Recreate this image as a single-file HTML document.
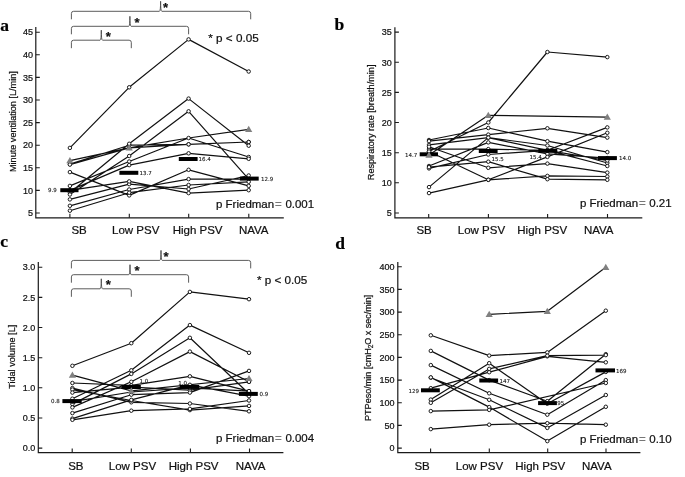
<!DOCTYPE html>
<html lang="en"><head><meta charset="utf-8"><title>Figure</title>
<style>html,body{margin:0;padding:0;background:#fff}svg{display:block;will-change:transform}text{stroke:#111;stroke-width:0.22px;font-family:'Liberation Sans', Arial, Helvetica, sans-serif;fill:#111}.bl{stroke-width:0.1px;font-family:'DejaVu Sans','Liberation Sans',sans-serif}.pl{font-family:'Liberation Serif','Times New Roman',serif;font-weight:bold;font-size:17.5px;fill:#000}</style>
</head><body>
<svg width="685" height="477" viewBox="0 0 685 477">
<rect width="685" height="477" fill="#fff"/>
<text class="pl" x="0.2" y="31">a</text>
<text class="pl" x="334.5" y="30.3">b</text>
<text class="pl" x="0.3" y="246.7">c</text>
<text class="pl" x="335.3" y="248.6">d</text>
<path d="M35.8 27.1V217.8H283.8" fill="none" stroke="#1a1a1a" stroke-width="1.2"/>
<path d="M35.8 213.0h4M35.8 190.4h4M35.8 167.8h4M35.8 145.2h4M35.8 122.6h4M35.8 100.0h4M35.8 77.4h4M35.8 54.8h4M35.8 32.2h4M69.9 217.8v-4M129.3 217.8v-4M188.7 217.8v-4M248.8 217.8v-4" fill="none" stroke="#1a1a1a" stroke-width="1.1"/>
<text x="33" y="216.2" font-size="9" text-anchor="end">5</text>
<text x="33" y="193.6" font-size="9" text-anchor="end">10</text>
<text x="33" y="171.0" font-size="9" text-anchor="end">15</text>
<text x="33" y="148.4" font-size="9" text-anchor="end">20</text>
<text x="33" y="125.8" font-size="9" text-anchor="end">25</text>
<text x="33" y="103.2" font-size="9" text-anchor="end">30</text>
<text x="33" y="80.6" font-size="9" text-anchor="end">35</text>
<text x="33" y="58.0" font-size="9" text-anchor="end">40</text>
<text x="33" y="35.4" font-size="9" text-anchor="end">45</text>
<path d="M69.9 147.9L129.2 87.3L188.6 39.4L248.7 71.5M69.9 160.6L129.2 147.9L188.6 138.0L248.7 129.4M69.9 164.0L129.2 145.2L188.6 144.3L248.7 142.0M69.9 164.6L129.2 147.9L188.6 144.3L248.7 142.0M69.9 192.7L129.2 143.8L188.6 98.6L248.7 145.7M69.9 194.5L129.2 156.0L188.6 111.3L248.7 179.1M69.9 185.9L129.2 161.5L188.6 138.0L248.7 157.0M69.9 190.4L129.2 165.1L188.6 153.3L248.7 158.8M69.9 172.1L129.2 195.4L188.6 169.8L248.7 185.9M69.9 199.4L129.2 184.1L188.6 189.0L248.7 175.5M69.9 205.8L129.2 189.5L188.6 179.1L248.7 179.1M69.9 210.7L129.2 192.7L188.6 185.0L248.7 181.8M69.9 190.4L129.2 181.4L188.6 193.1L248.7 190.2" fill="none" stroke="#111" stroke-width="1.2" stroke-linejoin="round"/>
<circle cx="69.9" cy="147.9" r="1.75" fill="#fff" stroke="#111" stroke-width="0.95"/>
<circle cx="129.2" cy="87.3" r="1.75" fill="#fff" stroke="#111" stroke-width="0.95"/>
<circle cx="188.6" cy="39.4" r="1.75" fill="#fff" stroke="#111" stroke-width="0.95"/>
<circle cx="248.7" cy="71.5" r="1.75" fill="#fff" stroke="#111" stroke-width="0.95"/>
<circle cx="69.9" cy="164.0" r="1.75" fill="#fff" stroke="#111" stroke-width="0.95"/>
<circle cx="129.2" cy="145.2" r="1.75" fill="#fff" stroke="#111" stroke-width="0.95"/>
<circle cx="188.6" cy="144.3" r="1.75" fill="#fff" stroke="#111" stroke-width="0.95"/>
<circle cx="248.7" cy="142.0" r="1.75" fill="#fff" stroke="#111" stroke-width="0.95"/>
<circle cx="69.9" cy="164.6" r="1.75" fill="#fff" stroke="#111" stroke-width="0.95"/>
<circle cx="129.2" cy="147.9" r="1.75" fill="#fff" stroke="#111" stroke-width="0.95"/>
<circle cx="188.6" cy="144.3" r="1.75" fill="#fff" stroke="#111" stroke-width="0.95"/>
<circle cx="248.7" cy="142.0" r="1.75" fill="#fff" stroke="#111" stroke-width="0.95"/>
<circle cx="69.9" cy="192.7" r="1.75" fill="#fff" stroke="#111" stroke-width="0.95"/>
<circle cx="129.2" cy="143.8" r="1.75" fill="#fff" stroke="#111" stroke-width="0.95"/>
<circle cx="188.6" cy="98.6" r="1.75" fill="#fff" stroke="#111" stroke-width="0.95"/>
<circle cx="248.7" cy="145.7" r="1.75" fill="#fff" stroke="#111" stroke-width="0.95"/>
<circle cx="69.9" cy="194.5" r="1.75" fill="#fff" stroke="#111" stroke-width="0.95"/>
<circle cx="129.2" cy="156.0" r="1.75" fill="#fff" stroke="#111" stroke-width="0.95"/>
<circle cx="188.6" cy="111.3" r="1.75" fill="#fff" stroke="#111" stroke-width="0.95"/>
<circle cx="248.7" cy="179.1" r="1.75" fill="#fff" stroke="#111" stroke-width="0.95"/>
<circle cx="69.9" cy="185.9" r="1.75" fill="#fff" stroke="#111" stroke-width="0.95"/>
<circle cx="129.2" cy="161.5" r="1.75" fill="#fff" stroke="#111" stroke-width="0.95"/>
<circle cx="188.6" cy="138.0" r="1.75" fill="#fff" stroke="#111" stroke-width="0.95"/>
<circle cx="248.7" cy="157.0" r="1.75" fill="#fff" stroke="#111" stroke-width="0.95"/>
<circle cx="69.9" cy="190.4" r="1.75" fill="#fff" stroke="#111" stroke-width="0.95"/>
<circle cx="129.2" cy="165.1" r="1.75" fill="#fff" stroke="#111" stroke-width="0.95"/>
<circle cx="188.6" cy="153.3" r="1.75" fill="#fff" stroke="#111" stroke-width="0.95"/>
<circle cx="248.7" cy="158.8" r="1.75" fill="#fff" stroke="#111" stroke-width="0.95"/>
<circle cx="69.9" cy="172.1" r="1.75" fill="#fff" stroke="#111" stroke-width="0.95"/>
<circle cx="129.2" cy="195.4" r="1.75" fill="#fff" stroke="#111" stroke-width="0.95"/>
<circle cx="188.6" cy="169.8" r="1.75" fill="#fff" stroke="#111" stroke-width="0.95"/>
<circle cx="248.7" cy="185.9" r="1.75" fill="#fff" stroke="#111" stroke-width="0.95"/>
<circle cx="69.9" cy="199.4" r="1.75" fill="#fff" stroke="#111" stroke-width="0.95"/>
<circle cx="129.2" cy="184.1" r="1.75" fill="#fff" stroke="#111" stroke-width="0.95"/>
<circle cx="188.6" cy="189.0" r="1.75" fill="#fff" stroke="#111" stroke-width="0.95"/>
<circle cx="248.7" cy="175.5" r="1.75" fill="#fff" stroke="#111" stroke-width="0.95"/>
<circle cx="69.9" cy="205.8" r="1.75" fill="#fff" stroke="#111" stroke-width="0.95"/>
<circle cx="129.2" cy="189.5" r="1.75" fill="#fff" stroke="#111" stroke-width="0.95"/>
<circle cx="188.6" cy="179.1" r="1.75" fill="#fff" stroke="#111" stroke-width="0.95"/>
<circle cx="248.7" cy="179.1" r="1.75" fill="#fff" stroke="#111" stroke-width="0.95"/>
<circle cx="69.9" cy="210.7" r="1.75" fill="#fff" stroke="#111" stroke-width="0.95"/>
<circle cx="129.2" cy="192.7" r="1.75" fill="#fff" stroke="#111" stroke-width="0.95"/>
<circle cx="188.6" cy="185.0" r="1.75" fill="#fff" stroke="#111" stroke-width="0.95"/>
<circle cx="248.7" cy="181.8" r="1.75" fill="#fff" stroke="#111" stroke-width="0.95"/>
<circle cx="69.9" cy="190.4" r="1.75" fill="#fff" stroke="#111" stroke-width="0.95"/>
<circle cx="129.2" cy="181.4" r="1.75" fill="#fff" stroke="#111" stroke-width="0.95"/>
<circle cx="188.6" cy="193.1" r="1.75" fill="#fff" stroke="#111" stroke-width="0.95"/>
<circle cx="248.7" cy="190.2" r="1.75" fill="#fff" stroke="#111" stroke-width="0.95"/>
<rect x="60.3" y="188.2" width="18.2" height="4" fill="#000"/>
<text x="56.8" y="192.4" font-size="5.5" fill="#000" stroke="#000" stroke-width="0.18" class="bl" text-anchor="end">9.9</text>
<rect x="119.4" y="170.8" width="18.9" height="4" fill="#000"/>
<text x="139.4" y="175.0" font-size="5.5" fill="#000" stroke="#000" stroke-width="0.18" class="bl" text-anchor="start">13.7</text>
<rect x="178.8" y="157.0" width="18.8" height="4" fill="#000"/>
<text x="198.4" y="161.2" font-size="5.5" fill="#000" stroke="#000" stroke-width="0.18" class="bl" text-anchor="start">16.4</text>
<rect x="239.9" y="176.6" width="18.8" height="4" fill="#000"/>
<text x="261.0" y="180.8" font-size="5.5" fill="#000" stroke="#000" stroke-width="0.18" class="bl" text-anchor="start">12.9</text>
<path d="M66.3 163.2L69.9 157.0L73.5 163.2Z" fill="#808080"/>
<path d="M125.6 150.5L129.2 144.3L132.8 150.5Z" fill="#808080"/>
<path d="M245.1 132.0L248.7 125.8L252.3 132.0Z" fill="#808080"/>
<path d="M71.4 19.3V13.5Q71.4 11.3 73.60000000000001 11.3H159.4Q160.6 11.3 160.6 1.3000000000000007M160.6 1.3000000000000007Q160.6 11.3 161.79999999999998 11.3H248.5Q250.7 11.3 250.7 13.5V19.3" fill="none" stroke="#4a4a4a" stroke-width="0.9"/>
<text x="162.9" y="11.8" font-size="13" font-weight="bold" fill="#222">*</text>
<path d="M71.4 34.3V28.5Q71.4 26.3 73.60000000000001 26.3H128.70000000000002Q129.9 26.3 129.9 16.3M129.9 16.3Q129.9 26.3 131.1 26.3H186.4Q188.6 26.3 188.6 28.5V34.3" fill="none" stroke="#4a4a4a" stroke-width="0.9"/>
<text x="134.4" y="26.8" font-size="13" font-weight="bold" fill="#222">*</text>
<path d="M71.4 48.2V42.400000000000006Q71.4 40.2 73.60000000000001 40.2H100.1Q101.3 40.2 101.3 30.200000000000003M101.3 30.200000000000003Q101.3 40.2 102.5 40.2H129.10000000000002Q131.3 40.2 131.3 42.400000000000006V48.2" fill="none" stroke="#4a4a4a" stroke-width="0.9"/>
<text x="105.8" y="40.7" font-size="13" font-weight="bold" fill="#222">*</text>
<text x="208.3" y="41.6" font-size="11.7">* p &lt; 0.05</text>
<text x="216" y="208.2" font-size="11.5">p Friedman<tspan style="fill:#777;stroke:#777" dx="0.9">=</tspan><tspan dx="0.4"> 0.001</tspan></text>
<text transform="translate(15.6 121.6) rotate(-90)" font-size="9.15" text-anchor="middle">Minute ventilation [L/min]</text>
<text x="71.4" y="234.3" font-size="11.5">SB</text>
<text x="112.0" y="234.3" font-size="11.5">Low PSV</text>
<text x="172.7" y="234.3" font-size="11.5">High PSV</text>
<text x="238.9" y="234.3" font-size="11.5">NAVA</text>
<path d="M394.9 27.3V217.9H642.3" fill="none" stroke="#1a1a1a" stroke-width="1.2"/>
<path d="M394.9 213.0h4M394.9 182.8h4M394.9 152.7h4M394.9 122.5h4M394.9 92.4h4M394.9 62.2h4M394.9 32.1h4M428.7 217.9v-4M488.4 217.9v-4M547.6 217.9v-4M607.5 217.9v-4" fill="none" stroke="#1a1a1a" stroke-width="1.1"/>
<text x="391.7" y="216.2" font-size="9" text-anchor="end">5</text>
<text x="391.7" y="186.0" font-size="9" text-anchor="end">10</text>
<text x="391.7" y="155.9" font-size="9" text-anchor="end">15</text>
<text x="391.7" y="125.8" font-size="9" text-anchor="end">20</text>
<text x="391.7" y="95.6" font-size="9" text-anchor="end">25</text>
<text x="391.7" y="65.5" font-size="9" text-anchor="end">30</text>
<text x="391.7" y="35.3" font-size="9" text-anchor="end">35</text>
<path d="M429.0 151.5L488.3 122.5L547.4 52.0L607.3 57.1M429.0 155.1L488.3 115.3L607.3 117.1M429.0 140.0L488.3 128.0L547.4 141.2L607.3 152.1M429.0 141.2L488.3 134.6L547.4 128.3L607.3 137.6M429.0 144.9L488.3 137.6L547.4 145.5L607.3 163.0M429.0 149.1L488.3 149.1L547.4 150.3L607.3 166.0M429.0 166.0L488.3 142.4L547.4 153.9L607.3 158.1M429.0 168.4L488.3 154.5L547.4 150.3L607.3 127.4M429.0 187.1L488.3 137.6L547.4 150.3L607.3 160.5M429.0 193.1L488.3 179.8L547.4 156.9L607.3 132.8M429.0 151.5L488.3 179.8L547.4 175.9L607.3 176.5M429.0 167.2L488.3 161.7L547.4 179.2L607.3 179.8M429.0 146.7L488.3 167.8L547.4 163.6L607.3 172.6" fill="none" stroke="#111" stroke-width="1.2" stroke-linejoin="round"/>
<circle cx="429.0" cy="151.5" r="1.75" fill="#fff" stroke="#111" stroke-width="0.95"/>
<circle cx="488.3" cy="122.5" r="1.75" fill="#fff" stroke="#111" stroke-width="0.95"/>
<circle cx="547.4" cy="52.0" r="1.75" fill="#fff" stroke="#111" stroke-width="0.95"/>
<circle cx="607.3" cy="57.1" r="1.75" fill="#fff" stroke="#111" stroke-width="0.95"/>
<circle cx="429.0" cy="140.0" r="1.75" fill="#fff" stroke="#111" stroke-width="0.95"/>
<circle cx="488.3" cy="128.0" r="1.75" fill="#fff" stroke="#111" stroke-width="0.95"/>
<circle cx="547.4" cy="141.2" r="1.75" fill="#fff" stroke="#111" stroke-width="0.95"/>
<circle cx="607.3" cy="152.1" r="1.75" fill="#fff" stroke="#111" stroke-width="0.95"/>
<circle cx="429.0" cy="141.2" r="1.75" fill="#fff" stroke="#111" stroke-width="0.95"/>
<circle cx="488.3" cy="134.6" r="1.75" fill="#fff" stroke="#111" stroke-width="0.95"/>
<circle cx="547.4" cy="128.3" r="1.75" fill="#fff" stroke="#111" stroke-width="0.95"/>
<circle cx="607.3" cy="137.6" r="1.75" fill="#fff" stroke="#111" stroke-width="0.95"/>
<circle cx="429.0" cy="144.9" r="1.75" fill="#fff" stroke="#111" stroke-width="0.95"/>
<circle cx="488.3" cy="137.6" r="1.75" fill="#fff" stroke="#111" stroke-width="0.95"/>
<circle cx="547.4" cy="145.5" r="1.75" fill="#fff" stroke="#111" stroke-width="0.95"/>
<circle cx="607.3" cy="163.0" r="1.75" fill="#fff" stroke="#111" stroke-width="0.95"/>
<circle cx="429.0" cy="149.1" r="1.75" fill="#fff" stroke="#111" stroke-width="0.95"/>
<circle cx="488.3" cy="149.1" r="1.75" fill="#fff" stroke="#111" stroke-width="0.95"/>
<circle cx="547.4" cy="150.3" r="1.75" fill="#fff" stroke="#111" stroke-width="0.95"/>
<circle cx="607.3" cy="166.0" r="1.75" fill="#fff" stroke="#111" stroke-width="0.95"/>
<circle cx="429.0" cy="166.0" r="1.75" fill="#fff" stroke="#111" stroke-width="0.95"/>
<circle cx="488.3" cy="142.4" r="1.75" fill="#fff" stroke="#111" stroke-width="0.95"/>
<circle cx="547.4" cy="153.9" r="1.75" fill="#fff" stroke="#111" stroke-width="0.95"/>
<circle cx="607.3" cy="158.1" r="1.75" fill="#fff" stroke="#111" stroke-width="0.95"/>
<circle cx="429.0" cy="168.4" r="1.75" fill="#fff" stroke="#111" stroke-width="0.95"/>
<circle cx="488.3" cy="154.5" r="1.75" fill="#fff" stroke="#111" stroke-width="0.95"/>
<circle cx="547.4" cy="150.3" r="1.75" fill="#fff" stroke="#111" stroke-width="0.95"/>
<circle cx="607.3" cy="127.4" r="1.75" fill="#fff" stroke="#111" stroke-width="0.95"/>
<circle cx="429.0" cy="187.1" r="1.75" fill="#fff" stroke="#111" stroke-width="0.95"/>
<circle cx="488.3" cy="137.6" r="1.75" fill="#fff" stroke="#111" stroke-width="0.95"/>
<circle cx="547.4" cy="150.3" r="1.75" fill="#fff" stroke="#111" stroke-width="0.95"/>
<circle cx="607.3" cy="160.5" r="1.75" fill="#fff" stroke="#111" stroke-width="0.95"/>
<circle cx="429.0" cy="193.1" r="1.75" fill="#fff" stroke="#111" stroke-width="0.95"/>
<circle cx="488.3" cy="179.8" r="1.75" fill="#fff" stroke="#111" stroke-width="0.95"/>
<circle cx="547.4" cy="156.9" r="1.75" fill="#fff" stroke="#111" stroke-width="0.95"/>
<circle cx="607.3" cy="132.8" r="1.75" fill="#fff" stroke="#111" stroke-width="0.95"/>
<circle cx="429.0" cy="151.5" r="1.75" fill="#fff" stroke="#111" stroke-width="0.95"/>
<circle cx="488.3" cy="179.8" r="1.75" fill="#fff" stroke="#111" stroke-width="0.95"/>
<circle cx="547.4" cy="175.9" r="1.75" fill="#fff" stroke="#111" stroke-width="0.95"/>
<circle cx="607.3" cy="176.5" r="1.75" fill="#fff" stroke="#111" stroke-width="0.95"/>
<circle cx="429.0" cy="167.2" r="1.75" fill="#fff" stroke="#111" stroke-width="0.95"/>
<circle cx="488.3" cy="161.7" r="1.75" fill="#fff" stroke="#111" stroke-width="0.95"/>
<circle cx="547.4" cy="179.2" r="1.75" fill="#fff" stroke="#111" stroke-width="0.95"/>
<circle cx="607.3" cy="179.8" r="1.75" fill="#fff" stroke="#111" stroke-width="0.95"/>
<circle cx="429.0" cy="146.7" r="1.75" fill="#fff" stroke="#111" stroke-width="0.95"/>
<circle cx="488.3" cy="167.8" r="1.75" fill="#fff" stroke="#111" stroke-width="0.95"/>
<circle cx="547.4" cy="163.6" r="1.75" fill="#fff" stroke="#111" stroke-width="0.95"/>
<circle cx="607.3" cy="172.6" r="1.75" fill="#fff" stroke="#111" stroke-width="0.95"/>
<rect x="419.7" y="152.3" width="18.3" height="4" fill="#000"/>
<text x="417.2" y="156.5" font-size="5.5" fill="#000" stroke="#000" stroke-width="0.18" class="bl" text-anchor="end">14.7</text>
<rect x="478.8" y="149.0" width="18.8" height="4" fill="#000"/>
<text x="491.4" y="161.2" font-size="5.5" fill="#000" stroke="#000" stroke-width="0.18" class="bl" text-anchor="start">15.5</text>
<rect x="538.4" y="148.8" width="18.9" height="4" fill="#000"/>
<text x="529.6" y="158.8" font-size="5.5" fill="#000" stroke="#000" stroke-width="0.18" class="bl" text-anchor="start">15.4</text>
<rect x="598.0" y="156.1" width="18.9" height="4" fill="#000"/>
<text x="619.1" y="160.3" font-size="5.5" fill="#000" stroke="#000" stroke-width="0.18" class="bl" text-anchor="start">14.0</text>
<path d="M425.4 157.7L429.0 151.5L432.6 157.7Z" fill="#808080"/>
<path d="M484.7 117.9L488.3 111.7L491.9 117.9Z" fill="#808080"/>
<path d="M603.7 119.7L607.3 113.5L610.9 119.7Z" fill="#808080"/>
<text x="579.9" y="207.3" font-size="11.5">p Friedman<tspan style="fill:#777;stroke:#777" dx="0.9">=</tspan><tspan dx="0.4"> 0.21</tspan></text>
<text transform="translate(373.9 122.4) rotate(-90)" font-size="9.15" text-anchor="middle">Respiratory rate [breath/min]</text>
<text x="416.4" y="234.0" font-size="11.5">SB</text>
<text x="457.8" y="234.0" font-size="11.5">Low PSV</text>
<text x="517.3" y="234.0" font-size="11.5">High PSV</text>
<text x="583.9" y="234.0" font-size="11.5">NAVA</text>
<path d="M38.3 262.1V452.6H283.4" fill="none" stroke="#1a1a1a" stroke-width="1.2"/>
<path d="M38.3 448.1h4M38.3 418.0h4M38.3 387.8h4M38.3 357.7h4M38.3 327.5h4M38.3 297.4h4M38.3 267.2h4M72.2 452.6v-4M131.3 452.6v-4M190.4 452.6v-4M249.5 452.6v-4" fill="none" stroke="#1a1a1a" stroke-width="1.1"/>
<text x="35.2" y="451.3" font-size="9" text-anchor="end">0.0</text>
<text x="35.2" y="421.2" font-size="9" text-anchor="end">0.5</text>
<text x="35.2" y="391.0" font-size="9" text-anchor="end">1.0</text>
<text x="35.2" y="360.9" font-size="9" text-anchor="end">1.5</text>
<text x="35.2" y="330.7" font-size="9" text-anchor="end">2.0</text>
<text x="35.2" y="300.6" font-size="9" text-anchor="end">2.5</text>
<text x="35.2" y="270.4" font-size="9" text-anchor="end">3.0</text>
<path d="M72.4 365.8L131.3 343.2L189.9 291.9L249.0 299.2M72.4 375.1L131.3 390.8L249.0 378.5M72.4 398.7L131.3 370.3L189.9 325.1L249.0 352.8M72.4 404.1L131.3 373.9L189.9 337.8L249.0 393.8M72.4 407.4L131.3 381.8L189.9 351.6L249.0 381.8M72.4 383.0L131.3 385.4L189.9 376.3L249.0 391.1M72.4 388.1L131.3 402.3L189.9 403.5L249.0 411.3M72.4 389.6L131.3 400.5L189.9 410.1L249.0 405.9M72.4 392.6L131.3 387.2L189.9 390.2L249.0 381.8M72.4 413.1L131.3 394.7L189.9 392.6L249.0 370.9M72.4 418.6L131.3 399.9L189.9 384.8L249.0 396.2M72.4 419.8L131.3 410.7L189.9 408.9L249.0 400.5M72.4 401.7L131.3 392.0L189.9 387.8L249.0 391.1" fill="none" stroke="#111" stroke-width="1.2" stroke-linejoin="round"/>
<circle cx="72.4" cy="365.8" r="1.75" fill="#fff" stroke="#111" stroke-width="0.95"/>
<circle cx="131.3" cy="343.2" r="1.75" fill="#fff" stroke="#111" stroke-width="0.95"/>
<circle cx="189.9" cy="291.9" r="1.75" fill="#fff" stroke="#111" stroke-width="0.95"/>
<circle cx="249.0" cy="299.2" r="1.75" fill="#fff" stroke="#111" stroke-width="0.95"/>
<circle cx="72.4" cy="398.7" r="1.75" fill="#fff" stroke="#111" stroke-width="0.95"/>
<circle cx="131.3" cy="370.3" r="1.75" fill="#fff" stroke="#111" stroke-width="0.95"/>
<circle cx="189.9" cy="325.1" r="1.75" fill="#fff" stroke="#111" stroke-width="0.95"/>
<circle cx="249.0" cy="352.8" r="1.75" fill="#fff" stroke="#111" stroke-width="0.95"/>
<circle cx="72.4" cy="404.1" r="1.75" fill="#fff" stroke="#111" stroke-width="0.95"/>
<circle cx="131.3" cy="373.9" r="1.75" fill="#fff" stroke="#111" stroke-width="0.95"/>
<circle cx="189.9" cy="337.8" r="1.75" fill="#fff" stroke="#111" stroke-width="0.95"/>
<circle cx="249.0" cy="393.8" r="1.75" fill="#fff" stroke="#111" stroke-width="0.95"/>
<circle cx="72.4" cy="407.4" r="1.75" fill="#fff" stroke="#111" stroke-width="0.95"/>
<circle cx="131.3" cy="381.8" r="1.75" fill="#fff" stroke="#111" stroke-width="0.95"/>
<circle cx="189.9" cy="351.6" r="1.75" fill="#fff" stroke="#111" stroke-width="0.95"/>
<circle cx="249.0" cy="381.8" r="1.75" fill="#fff" stroke="#111" stroke-width="0.95"/>
<circle cx="72.4" cy="383.0" r="1.75" fill="#fff" stroke="#111" stroke-width="0.95"/>
<circle cx="131.3" cy="385.4" r="1.75" fill="#fff" stroke="#111" stroke-width="0.95"/>
<circle cx="189.9" cy="376.3" r="1.75" fill="#fff" stroke="#111" stroke-width="0.95"/>
<circle cx="249.0" cy="391.1" r="1.75" fill="#fff" stroke="#111" stroke-width="0.95"/>
<circle cx="72.4" cy="388.1" r="1.75" fill="#fff" stroke="#111" stroke-width="0.95"/>
<circle cx="131.3" cy="402.3" r="1.75" fill="#fff" stroke="#111" stroke-width="0.95"/>
<circle cx="189.9" cy="403.5" r="1.75" fill="#fff" stroke="#111" stroke-width="0.95"/>
<circle cx="249.0" cy="411.3" r="1.75" fill="#fff" stroke="#111" stroke-width="0.95"/>
<circle cx="72.4" cy="389.6" r="1.75" fill="#fff" stroke="#111" stroke-width="0.95"/>
<circle cx="131.3" cy="400.5" r="1.75" fill="#fff" stroke="#111" stroke-width="0.95"/>
<circle cx="189.9" cy="410.1" r="1.75" fill="#fff" stroke="#111" stroke-width="0.95"/>
<circle cx="249.0" cy="405.9" r="1.75" fill="#fff" stroke="#111" stroke-width="0.95"/>
<circle cx="72.4" cy="392.6" r="1.75" fill="#fff" stroke="#111" stroke-width="0.95"/>
<circle cx="131.3" cy="387.2" r="1.75" fill="#fff" stroke="#111" stroke-width="0.95"/>
<circle cx="189.9" cy="390.2" r="1.75" fill="#fff" stroke="#111" stroke-width="0.95"/>
<circle cx="249.0" cy="381.8" r="1.75" fill="#fff" stroke="#111" stroke-width="0.95"/>
<circle cx="72.4" cy="413.1" r="1.75" fill="#fff" stroke="#111" stroke-width="0.95"/>
<circle cx="131.3" cy="394.7" r="1.75" fill="#fff" stroke="#111" stroke-width="0.95"/>
<circle cx="189.9" cy="392.6" r="1.75" fill="#fff" stroke="#111" stroke-width="0.95"/>
<circle cx="249.0" cy="370.9" r="1.75" fill="#fff" stroke="#111" stroke-width="0.95"/>
<circle cx="72.4" cy="418.6" r="1.75" fill="#fff" stroke="#111" stroke-width="0.95"/>
<circle cx="131.3" cy="399.9" r="1.75" fill="#fff" stroke="#111" stroke-width="0.95"/>
<circle cx="189.9" cy="384.8" r="1.75" fill="#fff" stroke="#111" stroke-width="0.95"/>
<circle cx="249.0" cy="396.2" r="1.75" fill="#fff" stroke="#111" stroke-width="0.95"/>
<circle cx="72.4" cy="419.8" r="1.75" fill="#fff" stroke="#111" stroke-width="0.95"/>
<circle cx="131.3" cy="410.7" r="1.75" fill="#fff" stroke="#111" stroke-width="0.95"/>
<circle cx="189.9" cy="408.9" r="1.75" fill="#fff" stroke="#111" stroke-width="0.95"/>
<circle cx="249.0" cy="400.5" r="1.75" fill="#fff" stroke="#111" stroke-width="0.95"/>
<circle cx="72.4" cy="401.7" r="1.75" fill="#fff" stroke="#111" stroke-width="0.95"/>
<circle cx="131.3" cy="392.0" r="1.75" fill="#fff" stroke="#111" stroke-width="0.95"/>
<circle cx="189.9" cy="387.8" r="1.75" fill="#fff" stroke="#111" stroke-width="0.95"/>
<circle cx="249.0" cy="391.1" r="1.75" fill="#fff" stroke="#111" stroke-width="0.95"/>
<rect x="62.4" y="399.1" width="19.3" height="4" fill="#000"/>
<text x="59.8" y="403.3" font-size="5.5" fill="#000" stroke="#000" stroke-width="0.18" class="bl" text-anchor="end">0.8</text>
<rect x="121.4" y="385.0" width="19.4" height="4" fill="#000"/>
<text x="139.6" y="382.7" font-size="5.5" fill="#000" stroke="#000" stroke-width="0.18" class="bl" text-anchor="start">1.0</text>
<rect x="179.8" y="384.9" width="19.4" height="4" fill="#000"/>
<text x="178.3" y="385.1" font-size="5.5" fill="#000" stroke="#000" stroke-width="0.18" class="bl" text-anchor="start">1.0</text>
<rect x="238.9" y="391.9" width="18.9" height="4" fill="#000"/>
<text x="259.6" y="396.1" font-size="5.5" fill="#000" stroke="#000" stroke-width="0.18" class="bl" text-anchor="start">0.9</text>
<path d="M68.8 377.7L72.4 371.5L76.0 377.7Z" fill="#808080"/>
<path d="M127.7 393.4L131.3 387.2L134.9 393.4Z" fill="#808080"/>
<path d="M245.4 381.1L249.0 374.9L252.6 381.1Z" fill="#808080"/>
<path d="M71.4 268.4V262.59999999999997Q71.4 260.4 73.60000000000001 260.4H159.8Q161.0 260.4 161.0 250.39999999999998M161.0 250.39999999999998Q161.0 260.4 162.2 260.4H248.5Q250.7 260.4 250.7 262.59999999999997V268.4" fill="none" stroke="#4a4a4a" stroke-width="0.9"/>
<text x="163.5" y="260.9" font-size="13" font-weight="bold" fill="#222">*</text>
<path d="M71.4 282.7V276.9Q71.4 274.7 73.60000000000001 274.7H128.8Q130.0 274.7 130.0 264.7M130.0 264.7Q130.0 274.7 131.2 274.7H186.4Q188.6 274.7 188.6 276.9V282.7" fill="none" stroke="#4a4a4a" stroke-width="0.9"/>
<text x="134.5" y="275.2" font-size="13" font-weight="bold" fill="#222">*</text>
<path d="M71.4 296.8V291.0Q71.4 288.8 73.60000000000001 288.8H100.1Q101.3 288.8 101.3 278.8M101.3 278.8Q101.3 288.8 102.5 288.8H129.10000000000002Q131.3 288.8 131.3 291.0V296.8" fill="none" stroke="#4a4a4a" stroke-width="0.9"/>
<text x="105.8" y="289.3" font-size="13" font-weight="bold" fill="#222">*</text>
<text x="257" y="284.2" font-size="11.7">* p &lt; 0.05</text>
<text x="216" y="441.6" font-size="11.5">p Friedman<tspan style="fill:#777;stroke:#777" dx="0.9">=</tspan><tspan dx="0.4"> 0.004</tspan></text>
<text transform="translate(15.2 356.8) rotate(-90)" font-size="9.15" text-anchor="middle">Tidal volume [L]</text>
<text x="68.2" y="469.6" font-size="11.5">SB</text>
<text x="108.8" y="469.6" font-size="11.5">Low PSV</text>
<text x="168.7" y="469.6" font-size="11.5">High PSV</text>
<text x="235.8" y="469.6" font-size="11.5">NAVA</text>
<path d="M397.8 262.1V452.6H640.4" fill="none" stroke="#1a1a1a" stroke-width="1.2"/>
<path d="M397.8 448.1h4M397.8 425.4h4M397.8 402.8h4M397.8 380.1h4M397.8 357.4h4M397.8 334.7h4M397.8 312.1h4M397.8 289.4h4M397.8 266.7h4M430.6 452.6v-4M489.3 452.6v-4M547.7 452.6v-4M606.0 452.6v-4" fill="none" stroke="#1a1a1a" stroke-width="1.1"/>
<text x="394.6" y="451.3" font-size="9" text-anchor="end">0</text>
<text x="394.6" y="428.6" font-size="9" text-anchor="end">50</text>
<text x="394.6" y="405.9" font-size="9" text-anchor="end">100</text>
<text x="394.6" y="383.3" font-size="9" text-anchor="end">150</text>
<text x="394.6" y="360.6" font-size="9" text-anchor="end">200</text>
<text x="394.6" y="337.9" font-size="9" text-anchor="end">250</text>
<text x="394.6" y="315.2" font-size="9" text-anchor="end">300</text>
<text x="394.6" y="292.6" font-size="9" text-anchor="end">350</text>
<text x="394.6" y="269.9" font-size="9" text-anchor="end">400</text>
<path d="M489.2 314.3L547.3 311.3L605.8 267.3M430.8 335.3L489.2 355.6L547.3 352.4L605.8 310.7M430.8 350.9L489.2 380.1L547.3 401.2L605.8 354.2M430.8 365.1L489.2 393.3L547.3 414.7L605.8 380.1M430.8 377.7L489.2 399.8L547.3 427.9L605.8 395.0M430.8 377.4L489.2 407.1L547.3 441.1L605.8 406.8M430.8 388.2L489.2 372.2L547.3 356.3L605.8 362.3M430.8 399.6L489.2 363.2L547.3 403.7L605.8 371.9M430.8 402.8L489.2 368.9L547.3 355.7L605.8 355.1M430.8 411.1L489.2 409.9L605.8 383.0M430.8 429.1L489.2 424.7L547.3 423.2L605.8 424.7" fill="none" stroke="#111" stroke-width="1.2" stroke-linejoin="round"/>
<circle cx="430.8" cy="335.3" r="1.75" fill="#fff" stroke="#111" stroke-width="0.95"/>
<circle cx="489.2" cy="355.6" r="1.75" fill="#fff" stroke="#111" stroke-width="0.95"/>
<circle cx="547.3" cy="352.4" r="1.75" fill="#fff" stroke="#111" stroke-width="0.95"/>
<circle cx="605.8" cy="310.7" r="1.75" fill="#fff" stroke="#111" stroke-width="0.95"/>
<circle cx="430.8" cy="350.9" r="1.75" fill="#fff" stroke="#111" stroke-width="0.95"/>
<circle cx="489.2" cy="380.1" r="1.75" fill="#fff" stroke="#111" stroke-width="0.95"/>
<circle cx="547.3" cy="401.2" r="1.75" fill="#fff" stroke="#111" stroke-width="0.95"/>
<circle cx="605.8" cy="354.2" r="1.75" fill="#fff" stroke="#111" stroke-width="0.95"/>
<circle cx="430.8" cy="365.1" r="1.75" fill="#fff" stroke="#111" stroke-width="0.95"/>
<circle cx="489.2" cy="393.3" r="1.75" fill="#fff" stroke="#111" stroke-width="0.95"/>
<circle cx="547.3" cy="414.7" r="1.75" fill="#fff" stroke="#111" stroke-width="0.95"/>
<circle cx="605.8" cy="380.1" r="1.75" fill="#fff" stroke="#111" stroke-width="0.95"/>
<circle cx="430.8" cy="377.7" r="1.75" fill="#fff" stroke="#111" stroke-width="0.95"/>
<circle cx="489.2" cy="399.8" r="1.75" fill="#fff" stroke="#111" stroke-width="0.95"/>
<circle cx="547.3" cy="427.9" r="1.75" fill="#fff" stroke="#111" stroke-width="0.95"/>
<circle cx="605.8" cy="395.0" r="1.75" fill="#fff" stroke="#111" stroke-width="0.95"/>
<circle cx="430.8" cy="377.4" r="1.75" fill="#fff" stroke="#111" stroke-width="0.95"/>
<circle cx="489.2" cy="407.1" r="1.75" fill="#fff" stroke="#111" stroke-width="0.95"/>
<circle cx="547.3" cy="441.1" r="1.75" fill="#fff" stroke="#111" stroke-width="0.95"/>
<circle cx="605.8" cy="406.8" r="1.75" fill="#fff" stroke="#111" stroke-width="0.95"/>
<circle cx="430.8" cy="388.2" r="1.75" fill="#fff" stroke="#111" stroke-width="0.95"/>
<circle cx="489.2" cy="372.2" r="1.75" fill="#fff" stroke="#111" stroke-width="0.95"/>
<circle cx="547.3" cy="356.3" r="1.75" fill="#fff" stroke="#111" stroke-width="0.95"/>
<circle cx="605.8" cy="362.3" r="1.75" fill="#fff" stroke="#111" stroke-width="0.95"/>
<circle cx="430.8" cy="399.6" r="1.75" fill="#fff" stroke="#111" stroke-width="0.95"/>
<circle cx="489.2" cy="363.2" r="1.75" fill="#fff" stroke="#111" stroke-width="0.95"/>
<circle cx="547.3" cy="403.7" r="1.75" fill="#fff" stroke="#111" stroke-width="0.95"/>
<circle cx="605.8" cy="371.9" r="1.75" fill="#fff" stroke="#111" stroke-width="0.95"/>
<circle cx="430.8" cy="402.8" r="1.75" fill="#fff" stroke="#111" stroke-width="0.95"/>
<circle cx="489.2" cy="368.9" r="1.75" fill="#fff" stroke="#111" stroke-width="0.95"/>
<circle cx="547.3" cy="355.7" r="1.75" fill="#fff" stroke="#111" stroke-width="0.95"/>
<circle cx="605.8" cy="355.1" r="1.75" fill="#fff" stroke="#111" stroke-width="0.95"/>
<circle cx="430.8" cy="411.1" r="1.75" fill="#fff" stroke="#111" stroke-width="0.95"/>
<circle cx="489.2" cy="409.9" r="1.75" fill="#fff" stroke="#111" stroke-width="0.95"/>
<circle cx="605.8" cy="383.0" r="1.75" fill="#fff" stroke="#111" stroke-width="0.95"/>
<circle cx="430.8" cy="429.1" r="1.75" fill="#fff" stroke="#111" stroke-width="0.95"/>
<circle cx="489.2" cy="424.7" r="1.75" fill="#fff" stroke="#111" stroke-width="0.95"/>
<circle cx="547.3" cy="423.2" r="1.75" fill="#fff" stroke="#111" stroke-width="0.95"/>
<circle cx="605.8" cy="424.7" r="1.75" fill="#fff" stroke="#111" stroke-width="0.95"/>
<rect x="421.0" y="388.3" width="18.8" height="4" fill="#000"/>
<text x="418.9" y="392.5" font-size="5.5" fill="#000" stroke="#000" stroke-width="0.18" class="bl" text-anchor="end">129</text>
<rect x="479.3" y="378.5" width="18.8" height="4" fill="#000"/>
<text x="499.4" y="382.7" font-size="5.5" fill="#000" stroke="#000" stroke-width="0.18" class="bl" text-anchor="start">147</text>
<rect x="538.1" y="401.1" width="18.8" height="4" fill="#000"/>
<text x="557.3" y="405.3" font-size="5.5" fill="#000" stroke="#000" stroke-width="0.18" class="bl" text-anchor="start">95</text>
<rect x="595.5" y="368.4" width="19.5" height="4" fill="#000"/>
<text x="616.0" y="372.6" font-size="5.5" fill="#000" stroke="#000" stroke-width="0.18" class="bl" text-anchor="start">169</text>
<path d="M485.6 316.9L489.2 310.7L492.8 316.9Z" fill="#808080"/>
<path d="M543.7 313.9L547.3 307.7L550.9 313.9Z" fill="#808080"/>
<path d="M602.2 269.9L605.8 263.7L609.4 269.9Z" fill="#808080"/>
<text x="579.9" y="443.0" font-size="11.5">p Friedman<tspan style="fill:#777;stroke:#777" dx="0.9">=</tspan><tspan dx="0.4"> 0.10</tspan></text>
<text transform="translate(371.2 357.8) rotate(-90)" font-size="9.0" text-anchor="middle">PTPeso/min [cmH<tspan font-size="6.5" dy="2">2</tspan><tspan dy="-2">O x sec/min]</tspan></text>
<text x="414.4" y="469.8" font-size="11.5">SB</text>
<text x="455.8" y="469.8" font-size="11.5">Low PSV</text>
<text x="515.3" y="469.8" font-size="11.5">High PSV</text>
<text x="582.0" y="469.8" font-size="11.5">NAVA</text>
</svg></body></html>
